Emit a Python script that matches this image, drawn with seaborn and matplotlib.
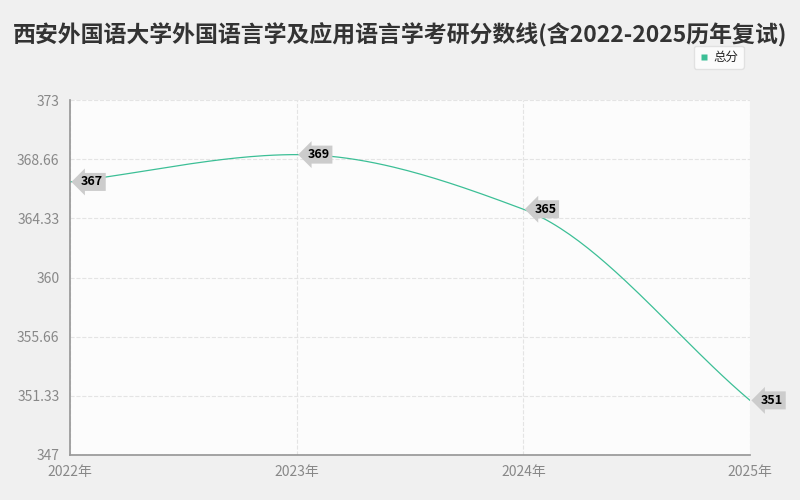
import numpy as np
import pandas as pd
import matplotlib
matplotlib.use('Agg')
import matplotlib.pyplot as plt
import seaborn as sns

sns.set_theme(style='white')
plt.rcParams['font.family'] = ['Noto Sans CJK SC', 'DejaVu Sans']

years = ['2022年', '2023年', '2024年', '2025年']
scores = [367, 369, 365, 351]
y_ticks = [347, 351.33, 355.66, 360, 364.33, 368.66, 373]
title = '西安外国语大学外国语言学及应用语言学考研分数线(含2022-2025历年复试)'
line_color = '#3cbf96'

df = pd.DataFrame({'x': np.arange(len(years)), 'score': scores})

# smooth curve through the points (cubic hermite)
x = df['x'].values.astype(float)
y = df['score'].values.astype(float)
d = np.diff(y)
m = np.zeros_like(y)
m[0], m[-1] = d[0], d[-1]
for i in range(1, len(y) - 1):
    m[i] = 0 if d[i - 1] * d[i] <= 0 else 2 / (1 / d[i - 1] + 1 / d[i])
xs, ys = [], []
for i in range(len(x) - 1):
    t = np.linspace(0, 1, 50)
    h00 = 2*t**3 - 3*t**2 + 1; h10 = t**3 - 2*t**2 + t
    h01 = -2*t**3 + 3*t**2; h11 = t**3 - t**2
    xs.extend(x[i] + t)
    ys.extend(h00*y[i] + h10*m[i] + h01*y[i+1] + h11*m[i+1])

fig = plt.figure(figsize=(8, 5), dpi=100, facecolor='#f0f0f0')
ax = fig.add_axes([0.0875, 0.09, 0.85, 0.71])
ax.set_facecolor('#fcfcfc')
sns.lineplot(x=xs, y=ys, ax=ax, color=line_color, linewidth=0.9, label='总分')

for xi, yi in zip(x, y):
    ax.annotate(f'{int(yi)}', (xi, yi), xytext=(8, 0), textcoords='offset points',
                va='center', ha='left', fontsize=9, fontweight='bold', color='black',
                bbox=dict(boxstyle='larrow,pad=0.2', fc='#cccccc', ec='none'))

ax.set_xlim(0, 3)
ax.set_ylim(347, 373)
ax.set_yticks(y_ticks)
ax.set_yticklabels(['347', '351.33', '355.66', '360', '364.33', '368.66', '373'])
ax.set_xticks(range(4))
ax.set_xticklabels(years)
ax.tick_params(colors='#888888', labelsize=10, length=4)
ax.grid(True, color='#e4e4e4', linestyle='--', linewidth=0.8)
for s in ['top', 'right']:
    ax.spines[s].set_visible(False)
for s in ['left', 'bottom']:
    ax.spines[s].set_color('#999999')

handle = plt.Line2D([], [], marker='s', color='none', markerfacecolor=line_color,
                    markeredgecolor='none', markersize=4)
leg = ax.legend([handle], ['总分'], loc='upper right', bbox_to_anchor=(1.0, 1.17),
                frameon=True, handlelength=0.8, handletextpad=0.4, fontsize=9)
leg.get_frame().set_edgecolor('#dddddd')

fig.text(0.5, 0.93, title, ha='center', va='center', fontsize=16.5, fontweight='bold', color='#333333')
fig.savefig('out.png', dpi=100, facecolor=fig.get_facecolor())
